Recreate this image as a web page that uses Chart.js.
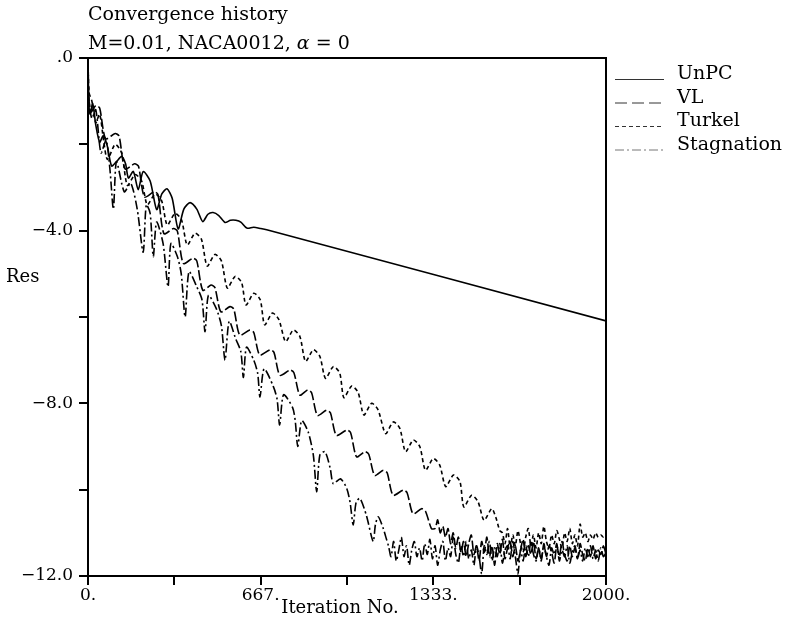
<!DOCTYPE html>
<html>
<head>
    <title>Convergence history</title>
    <script src="https://cdn.jsdelivr.net/npm/chart.js"></script>
    <style>
        body { margin: 0; background: #fff; }
    </style>
</head>
<body>
    <canvas id="conv-chart" width="787" height="627"></canvas>

    <script>
        // values (iteration no. / log residual)
        const seriesNames = ['UnPC', 'VL', 'Turkel', 'Stagnation'];

        const unpcIt = [0, 2, 8, 18, 30, 45, 59, 75, 91, 110, 130, 145, 156, 175, 194, 213, 240, 265, 285, 305,
            325, 348, 370, 394, 420, 443, 463, 483, 505, 529, 550, 571, 590, 613, 640, 667, 690, 2000];
        const unpcRes = [0, -0.9, -1.3, -1.05, -1.55, -1.95, -1.8, -2.05, -2.5, -2.4, -2.28, -2.45, -2.78, -2.63, -3.05, -2.63, -2.85, -3.51, -3.15, -3.03,
            -3.25, -3.96, -3.5, -3.35, -3.5, -3.79, -3.62, -3.58, -3.65, -3.81, -3.76, -3.76, -3.8, -3.94, -3.92, -3.95, -3.98, -6.09];

        const vlIt = [0, 3, 12, 30, 45, 68, 105, 120, 143, 180, 195, 218, 255, 270, 293, 330, 345, 368, 405, 420,
            443, 475, 490, 513, 548, 563, 586, 625, 640, 663, 703, 718, 741, 780, 795, 818, 848, 863, 886, 921,
            936, 959, 999, 1014, 1037, 1069, 1084, 1107, 1140, 1155, 1178, 1217, 1232, 1255, 1288, 1303, 1326];
        const vlRes = [0, -0.9, -1.25, -1.1, -1.16, -1.87, -1.75, -1.81, -2.57, -2.45, -2.51, -3.22, -3.1, -3.16, -4.07, -3.95, -4.01, -4.76, -4.64, -4.7,
            -5.38, -5.26, -5.32, -5.88, -5.76, -5.82, -6.42, -6.3, -6.36, -6.88, -6.76, -6.82, -7.35, -7.23, -7.29, -7.81, -7.69, -7.75, -8.28, -8.16,
            -8.22, -8.74, -8.62, -8.68, -9.24, -9.12, -9.18, -9.67, -9.55, -9.61, -10.13, -10.01, -10.07, -10.56, -10.44, -10.5, -10.9];
        // converged, noisy part: one value every 10 iterations from 1340
        const vlNoise = [-10.9, -10.7, -11.0, -10.85, -11.1, -10.9, -11.25, -11.0, -11.35,
            -11.1, -11.45, -11.2, -11.55, -11.25, -11.05, -11.5, -11.3, -11.65, -11.2,
            -11.45, -11.1, -11.55, -11.3, -11.75, -11.25, -11.5, -11.15, -11.6, -11.35,
            -11.2, -11.55, -11.3, -11.65, -11.4, -11.15, -11.55, -11.3, -11.5, -11.2,
            -11.6, -11.35, -11.65, -11.25, -11.55, -11.3, -11.45, -11.7, -11.3, -11.55,
            -11.2, -11.5, -11.65, -11.3, -11.55, -11.35, -11.6, -11.25, -11.5, -11.65,
            -11.35, -11.55, -11.3, -11.6, -11.4, -11.5, -11.3, -11.5];

        const turkelIt = [0, 4, 15, 30, 45, 60, 75, 105, 130, 152, 182, 207, 229, 259, 284, 306, 336, 361, 383, 413,
            438, 460, 490, 515, 538, 568, 593, 610, 640, 665, 682, 712, 737, 763, 793, 818, 840, 870, 895, 917,
            947, 972, 988, 1018, 1043, 1065, 1095, 1120, 1149, 1179, 1204, 1226, 1256, 1281, 1303, 1333, 1358, 1381, 1411, 1436,
            1451, 1481, 1506, 1529, 1559, 1575, 1590];
        const turkelRes = [0, -0.8, -1.0, -1.5, -1.3, -1.9, -2.35, -2.0, -2.2, -2.95, -2.7, -2.85, -3.4, -3.15, -3.3, -3.87, -3.6, -3.75, -4.33, -4.06,
            -4.2, -4.82, -4.55, -4.7, -5.33, -5.06, -5.2, -5.72, -5.45, -5.6, -6.18, -5.91, -6.06, -6.57, -6.3, -6.45, -7.03, -6.76, -6.91, -7.42,
            -7.15, -7.3, -7.87, -7.6, -7.75, -8.27, -8.0, -8.15, -8.70, -8.43, -8.58, -9.12, -8.85, -9.0, -9.55, -9.28, -9.43, -9.93, -9.66, -9.81,
            -10.40, -10.13, -10.28, -10.71, -10.44, -10.65, -10.95];
        // noisy part from 1600, step 10
        const turkelNoise = [-11.0, -11.25, -10.9, -11.35, -11.05, -11.3, -10.95, -11.25, -11.45, -11.1,
            -10.9, -11.3, -11.05, -11.35, -11.0, -11.25, -10.85, -11.2, -11.35, -11.05,
            -11.25, -10.95, -11.15, -11.35, -11.0, -11.2, -10.9, -11.25, -11.05, -11.3,
            -10.8, -11.1, -11.0, -11.2, -11.05, -11.15, -11.0, -11.1, -11.05, -11.1, -11.05];

        const stagIt = [0, 4, 15, 30, 50, 70, 85, 98, 110, 140, 165, 190, 213, 225, 240, 252, 265, 290, 309, 320,
            345, 360, 375, 390, 420, 440, 452, 465, 495, 515, 529, 545, 570, 590, 600, 612, 640, 655, 664, 680,
            715, 730, 740, 755, 790, 800, 810, 825, 850, 870, 883, 895, 915, 935, 947, 975, 999, 1012, 1024, 1035,
            1050, 1075, 1101, 1110, 1121, 1140, 1150];
        const stagRes = [0, -1.0, -1.4, -1.2, -2.2, -1.9, -2.6, -3.5, -2.4, -3.1, -2.9, -3.5, -4.5, -3.4, -3.6, -4.6, -3.8, -4.3, -5.3, -4.3,
            -4.6, -5.0, -6.0, -4.95, -5.3, -5.6, -6.34, -5.5, -5.8, -6.2, -7.0, -6.1, -6.5, -6.8, -7.4, -6.7, -7.0, -7.3, -7.85, -7.2,
            -7.6, -7.9, -8.5, -7.8, -8.1, -8.4, -9.0, -8.4, -8.66, -9.2, -10.05, -9.2, -9.12, -9.5, -9.86, -9.75, -9.97, -10.3, -10.82, -10.3,
            -10.2, -10.6, -11.2, -10.8, -10.63, -10.9, -11.1];
        // noisy part from 1160, step 10
        const stagNoise = [-11.3, -11.55, -11.2, -11.65, -11.4, -11.1, -11.55, -11.3, -11.75, -11.4,
            -11.2, -11.55, -11.35, -11.65, -11.25, -11.5, -11.15, -11.6, -11.3, -11.75,
            -11.4, -11.2, -11.65, -11.35, -11.55, -11.1, -11.5, -11.7, -11.3, -11.55,
            -11.2, -11.6, -11.4, -11.75, -11.3, -11.55, -11.95, -11.3, -11.5, -11.2,
            -11.65, -11.35, -11.55, -11.25, -11.7, -11.4, -11.3, -11.6, -11.2, -11.55,
            -11.95, -11.4, -11.65, -11.3, -11.55, -11.2, -11.5, -11.65, -11.35, -11.6,
            -11.3, -11.55, -11.75, -11.35, -11.5, -11.25, -11.65, -11.4, -11.55, -11.3,
            -11.7, -11.45, -11.3, -11.6, -11.4, -11.65, -11.35, -11.55, -11.3, -11.6,
            -11.4, -11.65, -11.35, -11.55, -11.45];

        const xTicks = [0, 333.33, 666.67, 1000, 1333.33, 1666.67, 2000];
        const xTickLabels = ['0.', '', '667.', '', '1333.', '', '2000.'];
        const yTicks = [-12, -10, -8, -6, -4, -2, 0];
        const yTickLabels = ['\u221212.0', '', '\u22128.0', '', '\u22124.0', '', '.0'];

        const serif = '"DejaVu Serif", "Liberation Serif", serif';

        function toPoints(its, vals) {
            return its.map((x, i) => ({ x: x, y: vals[i] }));
        }
        function noisePoints(start, step, vals) {
            return vals.map((v, i) => ({ x: start + i * step, y: v }));
        }

        const dashes = [[], [10, 3], [4, 3], [9, 3, 2, 3]];

        const textPlugin = {
            id: 'texts',
            afterDraw(chart) {
                const ctx = chart.ctx;
                const a = chart.chartArea;
                ctx.save();
                // frame
                ctx.strokeStyle = '#000';
                ctx.lineWidth = 2;
                ctx.strokeRect(a.left, a.top, a.right - a.left, a.bottom - a.top);

                ctx.fillStyle = '#000';
                ctx.textAlign = 'left';
                ctx.textBaseline = 'alphabetic';
                ctx.font = '19px ' + serif;
                ctx.fillText('Convergence history', 88, 20);
                let x = 88;
                const part1 = 'M=0.01, NACA0012, ';
                ctx.fillText(part1, x, 49);
                x += ctx.measureText(part1).width;
                ctx.font = 'italic 19px ' + serif;
                ctx.fillText('\u03b1', x, 49);
                x += ctx.measureText('\u03b1').width;
                ctx.font = '19px ' + serif;
                ctx.fillText(' = 0', x, 49);

                // axis titles
                ctx.font = '18px ' + serif;
                ctx.textBaseline = 'middle';
                ctx.fillText('Res', 6, 277);
                ctx.textAlign = 'center';
                ctx.fillText('Iteration No.', 340, 608);

                // legend
                ctx.textAlign = 'left';
                ctx.textBaseline = 'alphabetic';
                ctx.font = '19px ' + serif;
                seriesNames.forEach((name, i) => {
                    const y = 79 + i * 23.5;
                    ctx.strokeStyle = i === 3 ? '#777' : '#333';
                    ctx.lineWidth = 1;
                    ctx.setLineDash(i === 1 ? [12, 5] : dashes[i]);
                    ctx.beginPath();
                    ctx.moveTo(615, y + 0.5);
                    ctx.lineTo(664, y + 0.5);
                    ctx.stroke();
                    ctx.setLineDash([]);
                    ctx.fillText(name, 677, y);
                });
                ctx.restore();
            }
        };

        const ctx = document.getElementById('conv-chart').getContext('2d');
        const convChart = new Chart(ctx, {
            type: 'line',
            data: {
                datasets: [
                    { label: seriesNames[0], data: toPoints(unpcIt, unpcRes), borderDash: dashes[0] },
                    { label: seriesNames[1], data: toPoints(vlIt, vlRes).concat(noisePoints(1340, 10, vlNoise)), borderDash: dashes[1] },
                    { label: seriesNames[2], data: toPoints(turkelIt, turkelRes).concat(noisePoints(1600, 10, turkelNoise)), borderDash: dashes[2] },
                    { label: seriesNames[3], data: toPoints(stagIt, stagRes).concat(noisePoints(1160, 10, stagNoise)), borderDash: dashes[3] }
                ]
            },
            options: {
                responsive: false,
                animation: false,
                layout: { padding: { left: 0, top: 58, right: 181, bottom: 0 } },
                plugins: {
                    legend: { display: false },
                    tooltip: { enabled: false }
                },
                elements: {
                    point: { radius: 0 },
                    line: { tension: 0.25, borderWidth: 1.6, borderColor: '#000', fill: false }
                },
                scales: {
                    x: {
                        type: 'linear',
                        min: 0,
                        max: 2000,
                        afterBuildTicks: s => { s.ticks = xTicks.map(v => ({ value: v })); },
                        afterFit: s => { s.height = 51; },
                        ticks: {
                            autoSkip: false,
                            maxRotation: 0,
                            padding: 0,
                            color: '#000',
                            font: { family: serif, size: 17 },
                            callback: (v, i) => xTickLabels[i]
                        },
                        grid: { drawOnChartArea: false, tickLength: 9, color: '#000', lineWidth: 2 },
                        border: { color: '#000', width: 2 }
                    },
                    y: {
                        min: -12,
                        max: 0,
                        afterBuildTicks: s => { s.ticks = yTicks.map(v => ({ value: v })); },
                        afterFit: s => { s.width = 88; },
                        ticks: {
                            autoSkip: false,
                            padding: 6,
                            color: '#000',
                            font: { family: serif, size: 17 },
                            callback: (v, i) => yTickLabels[i]
                        },
                        grid: { drawOnChartArea: false, tickLength: 9, color: '#000', lineWidth: 2 },
                        border: { color: '#000', width: 2 }
                    }
                }
            },
            plugins: [textPlugin]
        });
    </script>
</body>
</html>
